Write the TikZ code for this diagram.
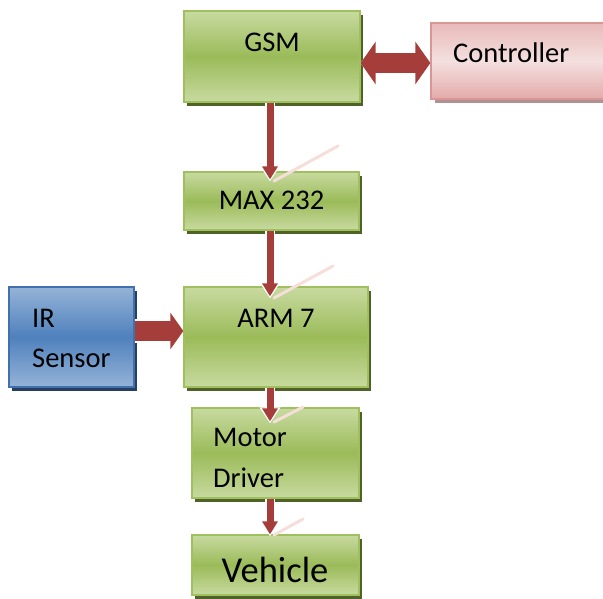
\documentclass[tikz,border=0pt]{standalone}
\usepackage{fontspec}
\setmainfont{Carlito}
\usetikzlibrary{arrows.meta,shadows}
\definecolor{gL}{RGB}{200,218,160}
\definecolor{gM}{RGB}{155,187,89}
\definecolor{gB}{RGB}{160,192,95}
\definecolor{gS}{RGB}{79,98,40}
\definecolor{bL}{RGB}{149,179,215}
\definecolor{bM}{RGB}{79,129,189}
\definecolor{bB}{RGB}{65,112,172}
\definecolor{bS}{RGB}{36,64,97}
\definecolor{pL}{RGB}{244,224,223}
\definecolor{pM}{RGB}{226,170,169}
\definecolor{pB}{RGB}{217,150,148}
\definecolor{pS}{RGB}{175,145,145}
\definecolor{aR}{RGB}{165,62,59}
\definecolor{aRl}{RGB}{190,80,77}
\definecolor{refl}{RGB}{246,222,219}
\begin{document}
\begin{tikzpicture}[x=1pt,y=-1pt,
  gbox/.style={draw=gB, line width=1.3pt, top color=gL, bottom color=gL, middle color=gM,
    inner sep=0pt, drop shadow={shadow xshift=3pt, shadow yshift=-4pt, fill=gS, opacity=1}},
  bbox/.style={draw=bB, line width=1.3pt, top color=bL, bottom color=bL, middle color=bM,
    inner sep=0pt, drop shadow={shadow xshift=3pt, shadow yshift=-4pt, fill=bS, opacity=1}},
  pbox/.style={draw=pB, line width=1.3pt, top color=pM!70!pL, bottom color=pM, middle color=pL,
    inner sep=0pt, drop shadow={shadow xshift=4pt, shadow yshift=-4pt, fill=pS, opacity=1}},
  txt/.style={inner sep=0pt, font=\fontsize{28.5}{34}\selectfont},
  varrow/.style={draw=aR, line width=7pt, -{Triangle[length=13pt,width=15pt]},
    preaction={draw=white, line width=10pt, -{Triangle[length=16pt,width=20pt]}, shorten >=-2pt}},
  barrow/.style={draw=aR, line width=20pt,
    preaction={draw=white, line width=24pt}},
  refline/.style={draw=refl, line width=3pt, line cap=round}
]
\useasboundingbox (0,0) rectangle (603,599);

% boxes
\node[pbox, minimum width=190pt, minimum height=76pt] (ctrl) at (526,61) {};
\node[gbox, minimum width=176pt, minimum height=91pt] (gsm) at (272,56.5) {};
\node[gbox, minimum width=175pt, minimum height=58pt] (max) at (271.5,201) {};
\node[gbox, minimum width=184pt, minimum height=100pt] (arm) at (276,337) {};
\node[bbox, minimum width=125pt, minimum height=100pt] (ir) at (71.5,337) {};
\node[gbox, minimum width=167pt, minimum height=90pt] (mot) at (275.5,453) {};
\node[gbox, minimum width=167pt, minimum height=60pt] (veh) at (275.5,565) {};

% reflections
\draw[refline] (274,181) -- (338,146);
\draw[refline] (274,298) -- (333,266);
\draw[refline] (274,422) -- (303,407);
\draw[refline] (274,535) -- (303,519);

% connectors
\draw[varrow] ([xshift=-2pt]gsm.south) -- ([xshift=-1.5pt,yshift=-8pt]max.north);
\draw[varrow] ([xshift=-1.5pt]max.south) -- ([xshift=-6pt,yshift=-10pt]arm.north);
\draw[varrow] ([xshift=-6pt]arm.south) -- ([xshift=-5.5pt,yshift=-14pt]mot.north);
\draw[varrow] ([xshift=-5.5pt]mot.south) -- ([xshift=-5.5pt,yshift=0pt]veh.north);
\draw[barrow, {Triangle[length=15pt,width=42pt]}-{Triangle[length=15pt,width=42pt]}]
  (gsm.east |- 0,63) -- (ctrl.west |- 0,63);
\draw[barrow, -{Triangle[length=13pt,width=36pt]}] (ir.east |- 0,331) -- (arm.west |- 0,331);

% texts
\node[txt, anchor=base] (tgsm) at (272,52) {GSM};
\node[txt, anchor=base west] (tctrl) at (453,63) {Controller};
\node[txt, anchor=base] (tmax) at (271.5,210) {MAX 232};
\node[txt, anchor=base] (tarm) at (276,327) {ARM 7};
\node[txt, anchor=base west] (tir1) at (32,327) {IR};
\node[txt, anchor=base west] (tir2) at (32,367) {Sensor};
\node[txt, anchor=base west] (tmot1) at (213,446) {Motor};
\node[txt, anchor=base west] (tmot2) at (213,487) {Driver};
\node[txt, anchor=base, font=\fontsize{36.5}{42}\selectfont] (tveh) at (275,582) {Vehicle};
\end{tikzpicture}
\end{document}
